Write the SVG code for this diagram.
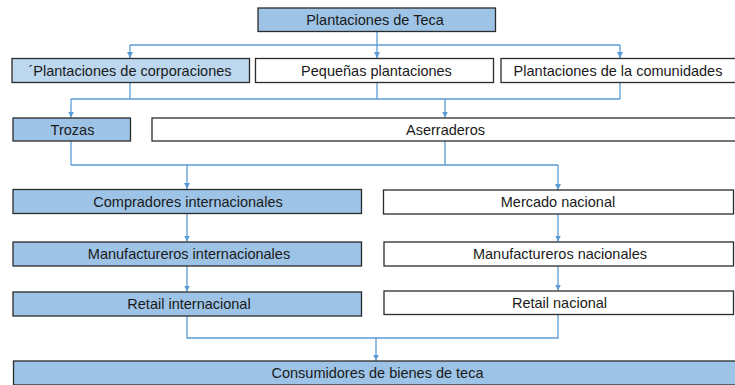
<svg xmlns="http://www.w3.org/2000/svg" width="735" height="385" viewBox="0 0 735 385">
<style>
.b{stroke:#2b2b2b;stroke-width:1.3}
.d{fill:#9DC3E6}
.l{fill:#BDD7EE}
.w{fill:#ffffff}
.t{font-family:"Liberation Sans",Arial,sans-serif;font-size:14.5px;fill:#1a1a1a;text-anchor:middle}
.c{fill:none;stroke:#5B9BD5;stroke-width:1.3}
</style>
<defs>
<marker id="a" viewBox="0 0 6 6" refX="6" refY="3" markerWidth="6" markerHeight="6" markerUnits="userSpaceOnUse" orient="auto">
<path d="M0,0 L6,3 L0,6 z" fill="#5B9BD5"/>
</marker>
</defs>
<rect width="735" height="385" fill="#ffffff"/>
<g id="connectors">
<path class="c" d="M377,32 V45"/>
<path class="c" d="M130,45 H620"/>
<path class="c" d="M130,45 V58" marker-end="url(#a)"/>
<path class="c" d="M377,45 V58" marker-end="url(#a)"/>
<path class="c" d="M620,45 V58" marker-end="url(#a)"/>
<path class="c" d="M130,82 V99 M377,82 V99 M620,82 V99 M71,99 H620"/>
<path class="c" d="M71,99 V117.5" marker-end="url(#a)"/>
<path class="c" d="M445,99 V117.5" marker-end="url(#a)"/>
<path class="c" d="M71,141 V165 M445,141 V165 M71,165 H558"/>
<path class="c" d="M187,165 V189" marker-end="url(#a)"/>
<path class="c" d="M558,165 V190" marker-end="url(#a)"/>
<path class="c" d="M187,213 V241.5" marker-end="url(#a)"/>
<path class="c" d="M187,266 V291.5" marker-end="url(#a)"/>
<path class="c" d="M558,214 V241.5" marker-end="url(#a)"/>
<path class="c" d="M558,266 V290.5" marker-end="url(#a)"/>
<path class="c" d="M187,316 V338 H558 V314"/>
<path class="c" d="M376,338 V360.5" marker-end="url(#a)"/>
</g>
<g id="n1"><rect class="b d" x="258" y="8" width="237.5" height="23.5"/><text class="t" x="375" y="25">Plantaciones de Teca</text></g>
<g id="n2"><rect class="b l" x="12" y="58.5" width="237.5" height="24"/><text class="t" x="130" y="75.5">´Plantaciones de corporaciones</text></g>
<g id="n3"><rect class="b w" x="255.5" y="58.5" width="238" height="24"/><text class="t" x="376.5" y="75.5">Pequeñas plantaciones</text></g>
<g id="n4"><rect class="b w" x="501" y="58.5" width="242" height="24"/><text class="t" x="618" y="75.5">Plantaciones de la comunidades</text></g>
<g id="n5"><rect class="b d" x="13" y="118" width="117.5" height="23"/><text class="t" x="72.5" y="134.5">Trozas</text></g>
<g id="n6"><rect class="b w" x="152" y="118" width="590" height="23"/><text class="t" x="445.5" y="134.5">Aserraderos</text></g>
<g id="n7"><rect class="b d" x="13" y="189.5" width="348.5" height="24"/><text class="t" x="188" y="206.5">Compradores internacionales</text></g>
<g id="n8"><rect class="b w" x="383.5" y="190" width="350" height="24"/><text class="t" x="558" y="207">Mercado nacional</text></g>
<g id="n9"><rect class="b d" x="13" y="242" width="348.5" height="24"/><text class="t" x="189" y="259">Manufactureros internacionales</text></g>
<g id="n10"><rect class="b w" x="384" y="242" width="349.5" height="24"/><text class="t" x="560" y="259">Manufactureros nacionales</text></g>
<g id="n11"><rect class="b d" x="13" y="292" width="348.5" height="24"/><text class="t" x="189" y="309">Retail internacional</text></g>
<g id="n12"><rect class="b w" x="384" y="291" width="349.5" height="23.5"/><text class="t" x="559.5" y="307.5">Retail nacional</text></g>
<g id="n13"><rect class="b d" x="13.5" y="361" width="736" height="24"/><text class="t" x="377.5" y="378">Consumidores de bienes de teca</text></g>
</svg>
